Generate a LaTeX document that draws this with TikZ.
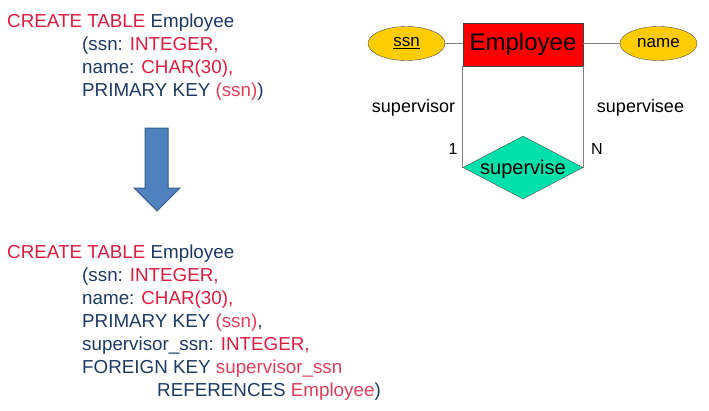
\documentclass[tikz,border=0pt]{standalone}
\usepackage{fontspec}
\setmainfont{Liberation Sans}
\usepackage{tikz}
\usetikzlibrary{shapes.geometric}

\definecolor{sqlred}{RGB}{222,28,64}
\definecolor{sqlpink}{RGB}{226,62,92}
\definecolor{sqlblue}{RGB}{28,58,100}
\definecolor{entred}{RGB}{255,0,0}
\definecolor{attryellow}{RGB}{255,204,0}
\definecolor{relgreen}{RGB}{0,224,170}
\definecolor{arrowfill}{RGB}{79,129,189}
\definecolor{arrowline}{RGB}{56,93,138}

\newcommand{\kw}[1]{\textcolor{sqlblue}{#1}}
\newcommand{\ty}[1]{\textcolor{sqlred}{#1}}
\newcommand{\vl}[1]{\textcolor{sqlpink}{#1}}

\begin{document}
\begin{tikzpicture}[x=1pt,y=-1pt]
        \tikzset{sqlline/.style = {anchor=base west,inner sep=0pt,font=\fontsize{18.8}{22}\selectfont}}
        \tikzset{entity/.style = {shape=rectangle,draw=black!75,fill=entred,minimum width=120pt,minimum height=43pt,inner sep=0pt,font=\fontsize{24}{28}\selectfont}}
        \tikzset{attr/.style = {shape=ellipse,draw=black!70,fill=attryellow,minimum width=77pt,minimum height=34pt,inner sep=0pt,font=\fontsize{17}{20}\selectfont}}
        \tikzset{rel/.style = {shape=diamond,draw=black!70,fill=relgreen,minimum width=120pt,minimum height=63pt,inner sep=0pt}}
        \tikzset{link/.style = {draw=black!50,line width=1.2pt}}
        \tikzset{role/.style = {inner sep=0pt,font=\fontsize{18}{21}\selectfont}}
        \useasboundingbox (0,0) rectangle (709,410);

        % table before
        \node[sqlline] (a1) at (7,27) {\ty{CREATE TABLE} \kw{Employee}};
        \node[sqlline] (a2) at (82,50) {\kw{(ssn:} \ty{INTEGER,}};
        \node[sqlline] (a3) at (82,73) {\kw{name:} \ty{CHAR(30),}};
        \node[sqlline] (a4) at (82,96) {\kw{PRIMARY KEY} \vl{(ssn)}\kw{)}};

        % block arrow
        \draw[fill=arrowfill,draw=arrowline,line width=1pt,line join=miter]
          (145,128) -- (168,128) -- (168,188) -- (180,188) -- (157,211)
          -- (134,188) -- (145,188) -- cycle;

        % table after
        \node[sqlline] (b1) at (7,258) {\ty{CREATE TABLE} \kw{Employee}};
        \node[sqlline] (b2) at (82,281) {\kw{(ssn:} \ty{INTEGER,}};
        \node[sqlline] (b3) at (82,304) {\kw{name:} \ty{CHAR(30),}};
        \node[sqlline] (b4) at (82,327) {\kw{PRIMARY KEY} \vl{(ssn)}\kw{,}};
        \node[sqlline] (b5) at (82,350) {\kw{supervisor\_ssn:} \ty{INTEGER,}};
        \node[sqlline] (b6) at (82,373) {\kw{FOREIGN KEY} \vl{supervisor\_ssn}};
        \node[sqlline] (b7) at (157,396) {\kw{REFERENCES} \vl{Employee}\kw{)}};

        % ER diagram
        \node[entity] (emp) at (523,44.5) {Employee};
        \node[attr] (ssn) at (406.5,43.5) {\underline{ssn}};
        \node[attr] (name) at (658.5,43.5) {name};
        \node[rel] (sup) at (523,167.5) {};
        \node[inner sep=0pt,font=\fontsize{20}{24}\selectfont] (suptxt) at (523,169) {supervise};

        \draw[link] (ssn.east) -- (ssn.east -| emp.west);
        \draw[link] (name.west) -- (name.west -| emp.east);
        \draw[link] (emp.south west) -- (sup.west);
        \draw[link] (emp.south east) -- (sup.east);

        \node[role] (rsup) at (413.5,108) {supervisor};
        \node[role] (rsee) at (640.5,108) {supervisee};
        \node[role,font=\fontsize{16}{19}\selectfont] (one) at (453,149) {1};
        \node[role,font=\fontsize{16}{19}\selectfont] (many) at (597,149) {N};
\end{tikzpicture}
\end{document}
